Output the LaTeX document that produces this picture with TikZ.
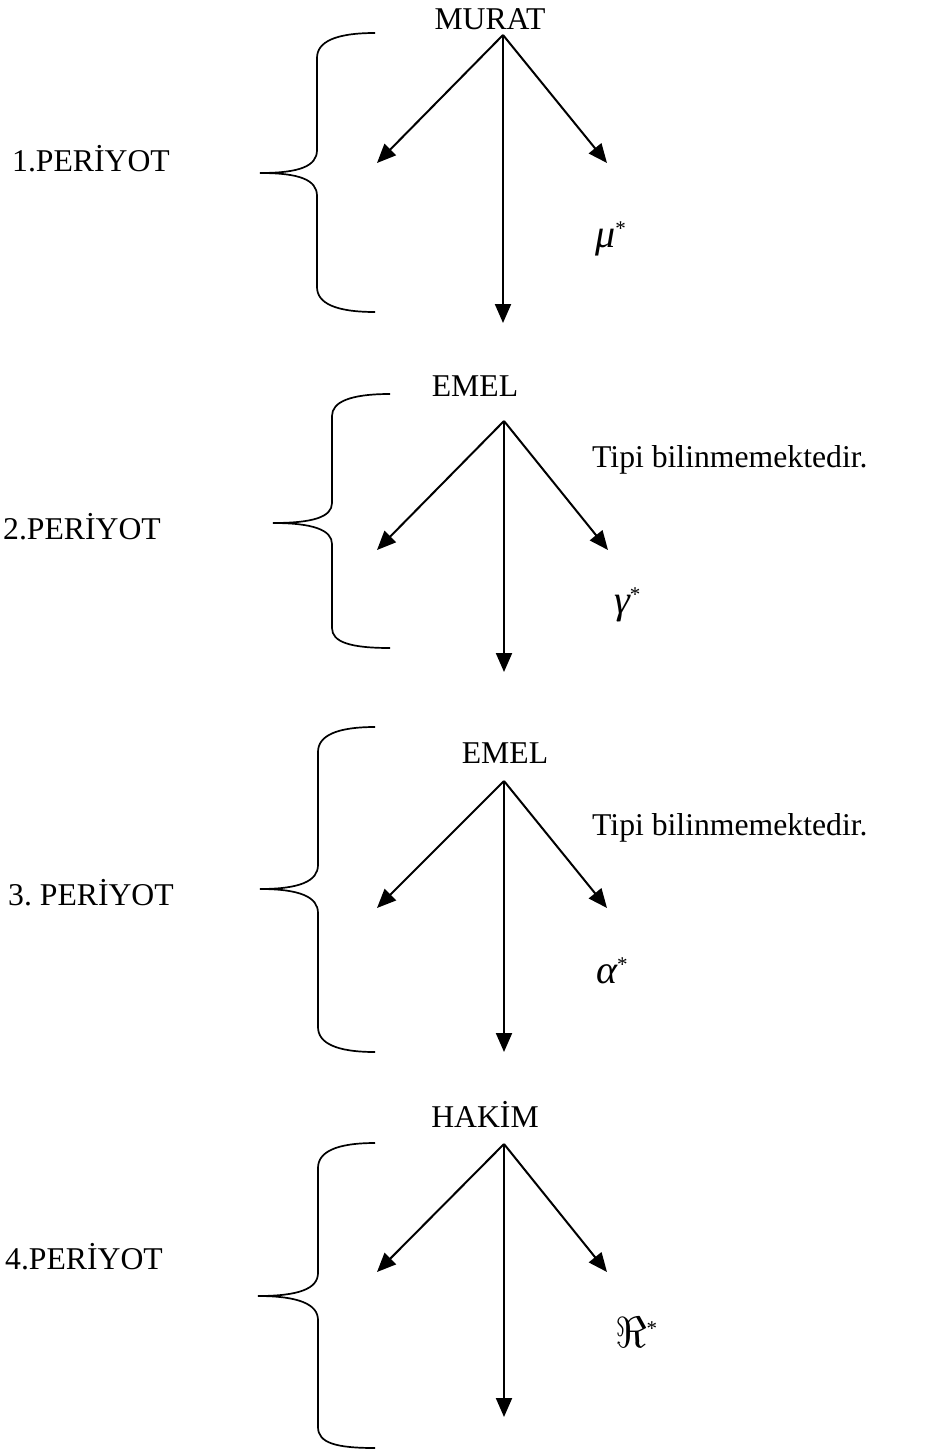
\documentclass[tikz,border=0pt]{standalone}
\usepackage{fontspec}
\setmainfont{Liberation Serif}
\usepackage{graphicx}
\usetikzlibrary{arrows.meta}

\newcommand\starmark{\raisebox{12pt}{\fontsize{21}{21}\selectfont *}}
\newcommand\greekmark[1]{{\fontsize{40}{40}\selectfont\itshape #1}}

\begin{document}
\begin{tikzpicture}[x=1pt, y=-1pt,
                   every node/.style={inner sep=0pt, font=\fontsize{31.7}{38}\selectfont},
                   person/.style={anchor=base},
                   periodlabel/.style={anchor=base west},
                   remark/.style={anchor=base west},
                   arr/.style={line width=2pt, -{Triangle[length=19pt,width=16pt]}},
                   brace/.style={line width=1.7pt}]
\useasboundingbox (0,0) rectangle (952,1450);

% 1. periyot
\node[person] (murat) at (490,30) {MURAT};
\node[periodlabel] (p1) at (12,172) {1.PERİYOT};
\node[remark] (mu) at (595,247) {\greekmark{μ}\starmark};
\coordinate (a1) at (503,35);
\coordinate (l1) at (377,163);
\coordinate (r1) at (607,163);
\coordinate (d1) at (503,323);
\draw[arr] (a1) -- (l1);
\draw[arr] (a1) -- (r1);
\draw[arr] (a1) -- (d1);
\draw[brace] (375,33) .. controls (335,33) and (317,42) .. (317,58) -- (317,150)
	.. controls (317,166) and (300,173) .. (260,173)
	.. controls (300,173) and (317,180) .. (317,196) -- (317,287)
	.. controls (317,303) and (335,312) .. (375,312);

% 2. periyot
\node[person] (emelA) at (475,396) {EMEL};
\node[periodlabel] (p2) at (3,539) {2.PERİYOT};
\node[remark] (tipiA) at (592,467) {Tipi bilinmemektedir.};
\node[remark] (gamma) at (614,613) {\greekmark{γ}\starmark};
\coordinate (a2) at (504,421);
\coordinate (l2) at (377,550);
\coordinate (r2) at (608,550);
\coordinate (d2) at (504,672);
\draw[arr] (a2) -- (l2);
\draw[arr] (a2) -- (r2);
\draw[arr] (a2) -- (d2);
\draw[brace] (390,394) .. controls (350,394) and (332,402) .. (332,416) -- (332,503)
	.. controls (332,517) and (313,523) .. (273,523)
	.. controls (313,523) and (332,530) .. (332,544) -- (332,628)
	.. controls (332,642) and (350,648) .. (390,648);

% 3. periyot
\node[person] (emelB) at (505,763) {EMEL};
\node[periodlabel] (p3) at (8,905) {3.\ PERİYOT};
\node[remark] (tipiB) at (592,835) {Tipi bilinmemektedir.};
\node[remark] (alpha) at (596,983) {\greekmark{α}\starmark};
\coordinate (a3) at (504,781);
\coordinate (l3) at (377,908);
\coordinate (r3) at (607,908);
\coordinate (d3) at (504,1052);
\draw[arr] (a3) -- (l3);
\draw[arr] (a3) -- (r3);
\draw[arr] (a3) -- (d3);
\draw[brace] (375,727) .. controls (336,727) and (318,736) .. (318,752) -- (318,865)
	.. controls (318,881) and (300,889) .. (260,889)
	.. controls (300,889) and (318,897) .. (318,913) -- (318,1027)
	.. controls (318,1043) and (336,1052) .. (375,1052);

% 4. periyot
\node[person] (hakim) at (485,1127) {HAKİM};
\node[periodlabel] (p4) at (5,1269) {4.PERİYOT};
\node[remark] (re) at (615,1347) {\scalebox{1.75}{$\Re$}\starmark};
\coordinate (a4) at (504,1144);
\coordinate (l4) at (377,1272);
\coordinate (r4) at (607,1272);
\coordinate (d4) at (504,1417);
\draw[arr] (a4) -- (l4);
\draw[arr] (a4) -- (r4);
\draw[arr] (a4) -- (d4);
\draw[brace] (375,1143) .. controls (336,1143) and (318,1152) .. (318,1168) -- (318,1273)
	.. controls (318,1289) and (298,1296) .. (258,1296)
	.. controls (298,1296) and (318,1304) .. (318,1320) -- (318,1427)
	.. controls (318,1443) and (336,1448) .. (375,1448);
\end{tikzpicture}
\end{document}
